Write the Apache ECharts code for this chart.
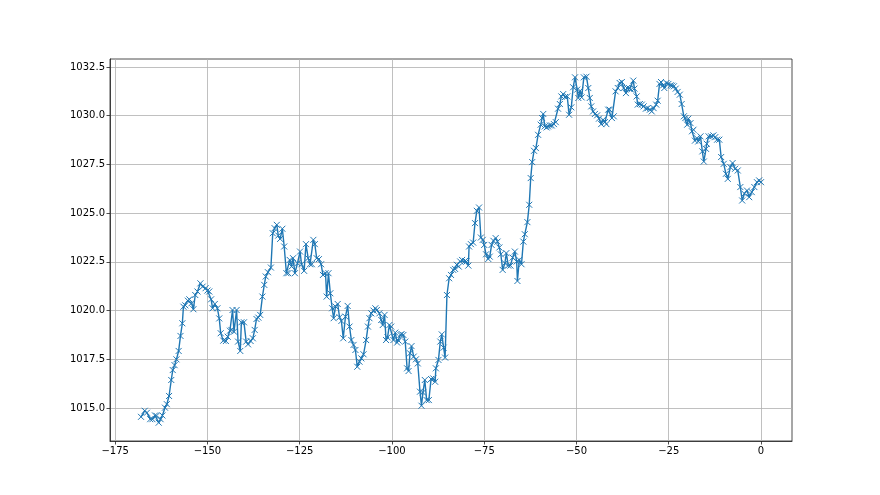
<!DOCTYPE html>
<html>
<head>
<meta charset="utf-8">
<script src="https://cdn.jsdelivr.net/npm/echarts@6/dist/echarts.min.js"></script>
<style>html,body{margin:0;padding:0;background:#fff;}#chart{width:880px;height:495px;}</style>
</head>
<body>
<div id="chart"></div>
<script>
const hours = [
-168.0,-167.0,-166.4,-165.5,-164.9,-164.2,-163.8,-163.2,-162.7,-162.2,-161.5,-161.0,-160.4,-159.8,-159.4,-158.9,-158.4,-157.8,-157.3,-156.8,-156.5,-156.0,-155.3,-154.9,-154.3,-153.8,-153.3,-152.7,-151.9,-151.3,-150.5,-150.0,-149.5,-149.0,-148.6,-148.0,-147.3,-146.8,-146.4,-145.7,-145.0,-144.5,-143.9,
-143.5,-143.2,-142.8,-142.1,-141.7,-141.1,-140.8,-140.1,-139.5,-139.0,-138.3,-137.7,-137.2,-136.7,-136.2,-135.7,-135.1,-134.6,-134.2,-133.6,-132.8,-132.3,-131.8,-131.2,-130.8,-130.3,-129.7,-129.2,-128.6,-128.1,-127.7,-127.2,-126.8,-126.3,-125.6,-124.9,-124.5,-123.8,-123.3,-122.7,-122.2,-121.7,-121.3,-120.9,-120.4,-119.8,-119.2,-118.7,
-118.0,-117.7,-117.2,-116.7,-116.2,-115.8,-115.3,-114.7,-114.2,-113.7,-113.2,-112.6,-112.0,-111.5,-111.0,-110.4,-109.9,-109.4,-108.8,-108.3,-107.7,-107.0,-106.5,-106.1,-105.6,-105.0,-104.5,-104.1,-103.4,-102.9,-102.5,-102.0,-101.6,-101.2,-100.7,-100.2,-99.6,-99.1,-98.6,-98.2,-97.7,-97.4,-96.9,-96.4,-95.9,-95.5,-95.1,-94.7,-94.1,-93.5,-93.0,
-92.4,-92.0,-91.6,-91.1,-90.6,-90.0,-89.4,-88.8,-88.3,-88.1,-87.4,-86.9,-86.5,-86.0,-85.6,-85.1,-84.5,-84.0,-83.4,-82.9,-82.4,-81.9,-81.5,-81.0,-80.2,-79.8,-79.3,-79.1,-78.6,-78.0,-77.5,-77.0,-76.4,-75.9,-75.4,-75.0,-74.5,-73.9,-73.5,-73.0,-72.5,-71.9,-71.4,-70.9,-70.5,-70.0,-69.4,-69.0,-68.5,-67.9,-67.3,-66.7,
-66.2,-66.0,-65.5,-64.9,-64.4,-64.0,-63.3,-62.8,-62.4,-62.0,-61.5,-61.0,-60.4,-59.7,-59.3,-59.0,-58.6,-58.1,-57.7,-57.2,-56.7,-56.1,-55.6,-55.0,-54.5,-54.1,-53.6,-53.1,-52.5,-52.0,-51.4,-50.9,-50.4,-49.8,-49.5,-49.0,-48.6,-48.0,-47.3,-46.8,-46.4,-46.0,-45.5,-45.0,-44.4,-43.9,-43.3,-42.8,-42.3,-41.9,-41.4,-41.0,
-40.4,-39.9,-39.4,-38.8,-38.3,-37.7,-37.2,-36.6,-36.3,-35.6,-35.2,-34.6,-34.3,-33.7,-33.4,-32.8,-32.3,-31.8,-31.2,-30.7,-30.1,-29.6,-29.1,-28.4,-28.0,-27.5,-27.1,-26.5,-26.2,-25.6,-25.1,-24.5,-24.1,-23.6,-23.1,-22.6,-22.0,-21.5,-20.9,-20.5,-20.0,-19.7,-19.1,-18.7,-18.3,-17.9,-17.4,-17.0,-16.4,-15.9,-15.5,
-14.9,-14.7,-14.2,-13.5,-12.9,-12.4,-11.9,-11.3,-10.8,-10.1,-9.5,-9.0,-8.3,-7.7,-7.0,-6.3,-5.6,-5.1,-4.5,-3.8,-3.2,-2.5,-1.8,-1.1,-0.5,0.0
];
const pressure = [
1014.55,1014.86,1014.76,1014.43,1014.43,1014.62,1014.60,1014.25,1014.43,1014.62,1015.02,1015.20,1015.62,1016.44,1016.95,1017.20,1017.50,1017.93,1018.70,1019.35,1020.20,1020.27,1020.51,1020.58,1020.38,1020.07,1020.80,1020.98,1021.40,1021.23,1021.15,1021.03,1020.98,1020.58,1020.12,1020.34,1020.12,1019.60,1018.84,1018.46,1018.44,1018.66,1018.97,
1019.01,1020.03,1018.92,1020.03,1018.41,1017.93,1019.40,1019.40,1018.41,1018.27,1018.44,1018.58,1019.01,1019.57,1019.64,1019.78,1020.72,1021.32,1021.75,1021.97,1022.21,1023.97,1024.23,1024.40,1023.85,1023.68,1024.20,1023.29,1021.92,1021.92,1022.60,1022.26,1022.69,1021.92,1022.43,1023.03,1022.38,1022.04,1023.41,1022.69,1022.38,1022.38,1023.63,1023.41,1022.69,1022.64,1022.38,1021.83,
1021.92,1020.72,1021.92,1020.89,1020.12,1019.61,1020.21,1020.34,1019.66,1019.47,1018.58,1019.69,1020.24,1019.18,1018.49,1018.24,1017.98,1017.12,1017.38,1017.55,1017.76,1018.49,1019.18,1019.61,1019.86,1020.00,1020.12,1020.03,1019.86,1019.52,1019.26,1019.78,1018.49,1018.63,1019.26,1019.18,1018.49,1018.87,1018.36,1018.46,1018.75,1018.80,1018.75,1018.41,1017.04,1016.90,1017.81,1018.18,1017.64,1017.50,1017.29,
1015.84,1015.12,1015.80,1016.44,1015.41,1015.41,1016.49,1016.52,1016.35,1017.04,1017.47,1018.41,1018.78,1018.10,1017.59,1020.80,1021.66,1021.83,1022.09,1022.14,1022.35,1022.26,1022.52,1022.60,1022.55,1022.52,1022.31,1023.29,1023.41,1023.49,1024.49,1025.12,1025.29,1023.75,1023.63,1023.37,1022.89,1022.65,1022.77,1023.37,1023.58,1023.72,1023.54,1023.24,1022.89,1022.09,1022.43,1022.95,1022.31,1022.31,1022.72,1023.03,
1022.52,1021.52,1022.60,1022.38,1023.54,1023.92,1024.54,1025.43,1026.80,1027.62,1028.20,1028.34,1029.02,1029.54,1029.88,1030.09,1029.45,1029.40,1029.45,1029.50,1029.50,1029.57,1029.67,1030.36,1030.60,1030.99,1031.11,1030.96,1030.99,1030.05,1030.43,1031.46,1031.97,1031.34,1030.91,1031.28,1030.94,1031.97,1032.00,1031.42,1030.91,1030.48,1030.22,1030.09,1030.02,1029.85,1029.57,1029.79,1029.67,1029.57,1030.31,1030.31,
1029.88,1029.97,1031.25,1031.42,1031.68,1031.73,1031.42,1031.16,1031.42,1031.39,1031.34,1031.80,1031.39,1030.99,1030.57,1030.60,1030.57,1030.48,1030.36,1030.39,1030.31,1030.22,1030.39,1030.57,1030.77,1031.63,1031.73,1031.56,1031.42,1031.68,1031.63,1031.56,1031.54,1031.51,1031.39,1031.22,1031.08,1030.60,1029.97,1029.88,1029.54,1029.85,1029.62,1029.20,1029.28,1028.72,1028.85,1028.68,1028.94,1028.17,1027.65,
1028.30,1028.56,1028.94,1028.94,1028.99,1028.90,1028.77,1028.77,1027.88,1027.53,1027.02,1026.76,1027.36,1027.57,1027.28,1027.19,1026.34,1025.65,1026.00,1026.16,1025.82,1026.08,1026.34,1026.59,1026.68,1026.59
];
const xTicks = [-175, -150, -125, -100, -75, -50, -25, 0];
const yTicks = [1015.0, 1017.5, 1020.0, 1022.5, 1025.0, 1027.5, 1030.0, 1032.5];

const data = hours.map((h, i) => [h, pressure[i]]);
const font = 'DejaVu Sans, sans-serif';
const chart = echarts.init(document.getElementById('chart'), null, {renderer: 'canvas'});
const axisCommon = {
  axisLine: {show: true, onZero: false, lineStyle: {color: '#222', width: 0.8}},
  splitLine: {show: true, lineStyle: {color: '#b0b0b0', width: 0.8}},
};
chart.setOption({
  animation: false,
  backgroundColor: '#fff',
  grid: {left: 110, top: 59, width: 682, height: 382, show: true, borderColor: '#222', borderWidth: 0.8, backgroundColor: 'transparent'},
  xAxis: Object.assign({
    type: 'value', min: -176.4, max: 8.4,
    axisTick: {show: true, length: 3.5, inside: false, customValues: xTicks, lineStyle: {color: '#222', width: 0.8}},
    axisLabel: {customValues: xTicks, color: '#000', fontSize: 10, fontFamily: font, margin: 5,
      formatter: v => String(v).replace('-', '\u2212')}
  }, axisCommon),
  yAxis: Object.assign({
    type: 'value', min: 1013.31, max: 1032.91,
    axisTick: {show: true, length: 3.5, inside: false, customValues: yTicks, lineStyle: {color: '#222', width: 0.8}},
    axisLabel: {customValues: yTicks, color: '#000', fontSize: 10, fontFamily: font, margin: 5,
      formatter: v => v.toFixed(1)}
  }, axisCommon),
  series: [{
    type: 'line',
    data: data,
    showAllSymbol: true,
    symbol: 'path://M0,0L10,10M0,10L10,0',
    symbolSize: 6,
    lineStyle: {color: '#1f77b4', width: 1.4},
    itemStyle: {color: 'rgba(0,0,0,0)', borderColor: '#1f77b4', borderWidth: 1},
    emphasis: {disabled: true}
  }]
});
</script>
</body>
</html>
